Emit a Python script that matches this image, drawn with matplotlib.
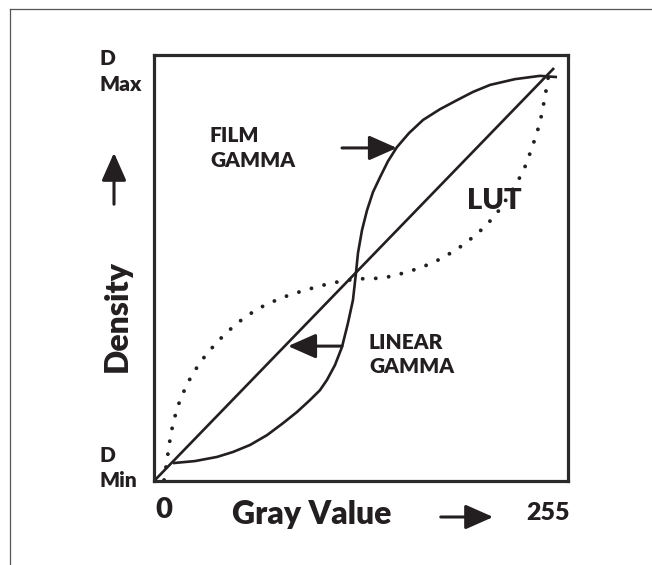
import matplotlib
matplotlib.use("Agg")
import matplotlib.pyplot as plt
from matplotlib.lines import Line2D
from matplotlib.patches import FancyArrowPatch

# ── Data (gray value 0..255, density 0 = D min .. 1 = D max) ─────────────────
linear_x = [0, 255]
linear_y = [0.0, 1.0]

film_x = [11.5, 25.6, 39.6, 49.8, 60.7, 71.6, 81.8, 90.7, 99.0, 105.4,
          109.9, 115.0, 119.5, 123.3, 126.5, 128.4, 129.7, 132.3, 135.5,
          139.3, 143.8, 148.9, 154.6, 162.3, 171.3, 182.1, 193.0, 203.2,
          214.1, 230.0, 246.0, 256.9]
film_y = [0.041, 0.046, 0.056, 0.068, 0.085, 0.109, 0.138, 0.165, 0.194,
          0.218, 0.243, 0.279, 0.323, 0.381, 0.437, 0.502, 0.551, 0.607,
          0.655, 0.699, 0.735, 0.774, 0.808, 0.842, 0.874, 0.900, 0.922,
          0.942, 0.959, 0.973, 0.981, 0.978]

lut_x = [5.8, 7.7, 10.2, 14.1, 20.4, 28.8, 39.6, 51.8, 65.2, 80.5, 95.9,
         112.5, 128.4, 145.7, 161.7, 177.6, 192.3, 205.8, 217.3, 226.8,
         235.2, 240.9, 246.0, 249.2, 251.8, 253.7]
lut_y = [0.0, 0.049, 0.114, 0.175, 0.233, 0.286, 0.335, 0.379, 0.415,
         0.442, 0.461, 0.478, 0.488, 0.490, 0.505, 0.527, 0.558, 0.597,
         0.641, 0.694, 0.748, 0.806, 0.867, 0.930, 0.990, 1.0]

W, H = 652, 565
INK = "#231f20"
FONT = ["Lato", "DejaVu Sans"]


def fx(px):
    return px / W


def fy(py):
    return 1 - py / H


fig = plt.figure(figsize=(W / 100, H / 100), dpi=100)
fig.patch.set_facecolor("white")

# page frame (top and left rule)
fig.add_artist(Line2D([fx(10), 1.0], [fy(9), fy(9)], color="#555555", lw=0.9))
fig.add_artist(Line2D([fx(10), fx(10)], [fy(9), 0.0], color="#555555", lw=0.9))

ax = fig.add_axes([fx(154), fy(481), fx(568) - fx(154), fy(55) - fy(481)])
ax.set_xlim(-0.64, 263.9)
ax.set_ylim(-0.0024, 1.0316)
ax.set_xticks([])
ax.set_yticks([])
for s in ax.spines.values():
    s.set_linewidth(2.3)
    s.set_color("#2a2a2a")

ax.plot(linear_x, linear_y, color=INK, lw=1.9, solid_capstyle="butt")
ax.plot(film_x, film_y, color=INK, lw=1.9, solid_capstyle="butt",
        solid_joinstyle="round")
ax.plot(lut_x, lut_y, color=INK, lw=2.8, linestyle=(0, (0.01, 3.35)),
        dash_capstyle="round")

# arrows
arrow = dict(arrowstyle="-|>,head_length=0.95,head_width=0.42", color=INK,
             lw=2.2, mutation_scale=18)
ax.annotate("", xy=(154.6, 0.806), xytext=(119.5, 0.806),
            arrowprops=dict(arrow, shrinkA=0, shrinkB=0))
ax.annotate("", xy=(85.0, 0.325), xytext=(119.5, 0.325),
            arrowprops=dict(arrow, shrinkA=0, shrinkB=0))
fig.add_artist(FancyArrowPatch((fx(438), fy(517)), (fx(496), fy(517)),
                               transform=fig.transFigure, **arrow))
fig.add_artist(FancyArrowPatch((fx(114), fy(207)), (fx(114), fy(150)),
                               transform=fig.transFigure, **arrow))

# labels
small = dict(family=FONT, fontweight="heavy", color=INK, fontsize=15,
             ha="left", va="baseline")
fig.text(fx(99), fy(65), "D", **small)
fig.text(fx(99), fy(91), "Max", **small)
fig.text(fx(99), fy(462), "D", **small)
fig.text(fx(99), fy(487), "Min", **small)
fig.text(fx(210), fy(142), "FILM", **small)
fig.text(fx(210), fy(167), "GAMMA", **small)
fig.text(fx(369), fy(349), "LINEAR", **small)
fig.text(fx(369), fy(373), "GAMMA", **small)
fig.text(fx(467), fy(209), "LUT", family=FONT, fontweight="heavy", color=INK,
         fontsize=21, ha="left", va="baseline")
fig.text(fx(155), fy(518), "0", family=FONT, fontweight="heavy", color=INK,
         fontsize=21, ha="left", va="baseline")
fig.text(fx(526), fy(520), "255", family=FONT, fontweight="heavy", color=INK,
         fontsize=18, ha="left", va="baseline")
fig.text(fx(232), fy(524), "Gray Value", family=FONT, fontweight="heavy",
         color=INK, fontsize=23, ha="left", va="baseline")
fig.text(fx(117), fy(316), "Density", family=FONT, fontweight="heavy",
         color=INK, fontsize=23, rotation=90, ha="center", va="center")

fig.savefig("out.png", dpi=100, facecolor="white")
